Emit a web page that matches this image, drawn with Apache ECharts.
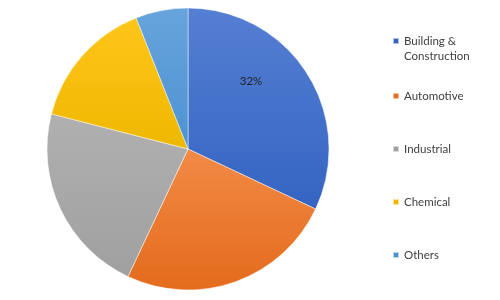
<!DOCTYPE html>
<html>
<head>
<meta charset="utf-8">
<script src="https://cdn.jsdelivr.net/npm/echarts@6/dist/echarts.min.js"></script>
<style>html,body{margin:0;padding:0;background:#fff}#c{width:500px;height:300px}</style>
</head>
<body>
<div id="c"></div>
<script>
const categories = ['Building & Construction', 'Automotive', 'Industrial', 'Chemical', 'Others'];
const legendLabels = ['\nBuilding &\nConstruction', 'Automotive', 'Industrial', 'Chemical', 'Others'];
const values = [32, 25, 22, 15, 6];
const labelShown = ['32%', '', '', '', ''];
const topColors = ['#557fd3', '#f28a46', '#b0b0b0', '#ffc51a', '#67a4dc'];
const bottomColors = ['#3464c2', '#e46b1c', '#a0a0a0', '#eeb800', '#4d93d2'];
const legendCenters = [41, 96, 149, 202, 255];

const chart = echarts.init(document.getElementById('c'), null, {renderer: 'canvas'});
const center = [188, 149];
const R = 141;

const data = categories.map((n, i) => ({
  name: n,
  value: values[i],
  itemStyle: {
    color: {type: 'linear', x: 0, y: 0, x2: 0, y2: 1, colorStops: [
      {offset: 0, color: topColors[i]}, {offset: 1, color: bottomColors[i]}]}
  }
}));

const legends = categories.map((n, i) => {
  const lines = legendLabels[i].split('\n').length;
  return {
    orient: 'vertical',
    left: 392,
    top: legendCenters[i] - lines * 7.5,
    padding: 0,
    icon: 'rect',
    itemWidth: 6,
    itemHeight: 6,
    selectedMode: false,
    data: [{name: n, itemStyle: {color: bottomColors[i]}}],
    formatter: () => legendLabels[i],
    textStyle: {fontFamily: 'Lato', fontSize: 11.5, color: '#404040', lineHeight: 15}
  };
});

chart.setOption({
  animation: false,
  legend: legends,
  series: [{
    type: 'pie',
    center: center,
    radius: [0, R],
    startAngle: 90,
    clockwise: true,
    label: {
      show: true, position: 'inside',
      formatter: p => labelShown[p.dataIndex],
      offset: [1, -28],
      fontFamily: 'Lato', fontSize: 11.5, color: '#222'
    },
    labelLine: {show: false},
    itemStyle: {borderColor: 'rgba(255,255,255,0.6)', borderWidth: 0.8},
    emphasis: {disabled: true},
    data: data
  }]
});
</script>
</body>
</html>
